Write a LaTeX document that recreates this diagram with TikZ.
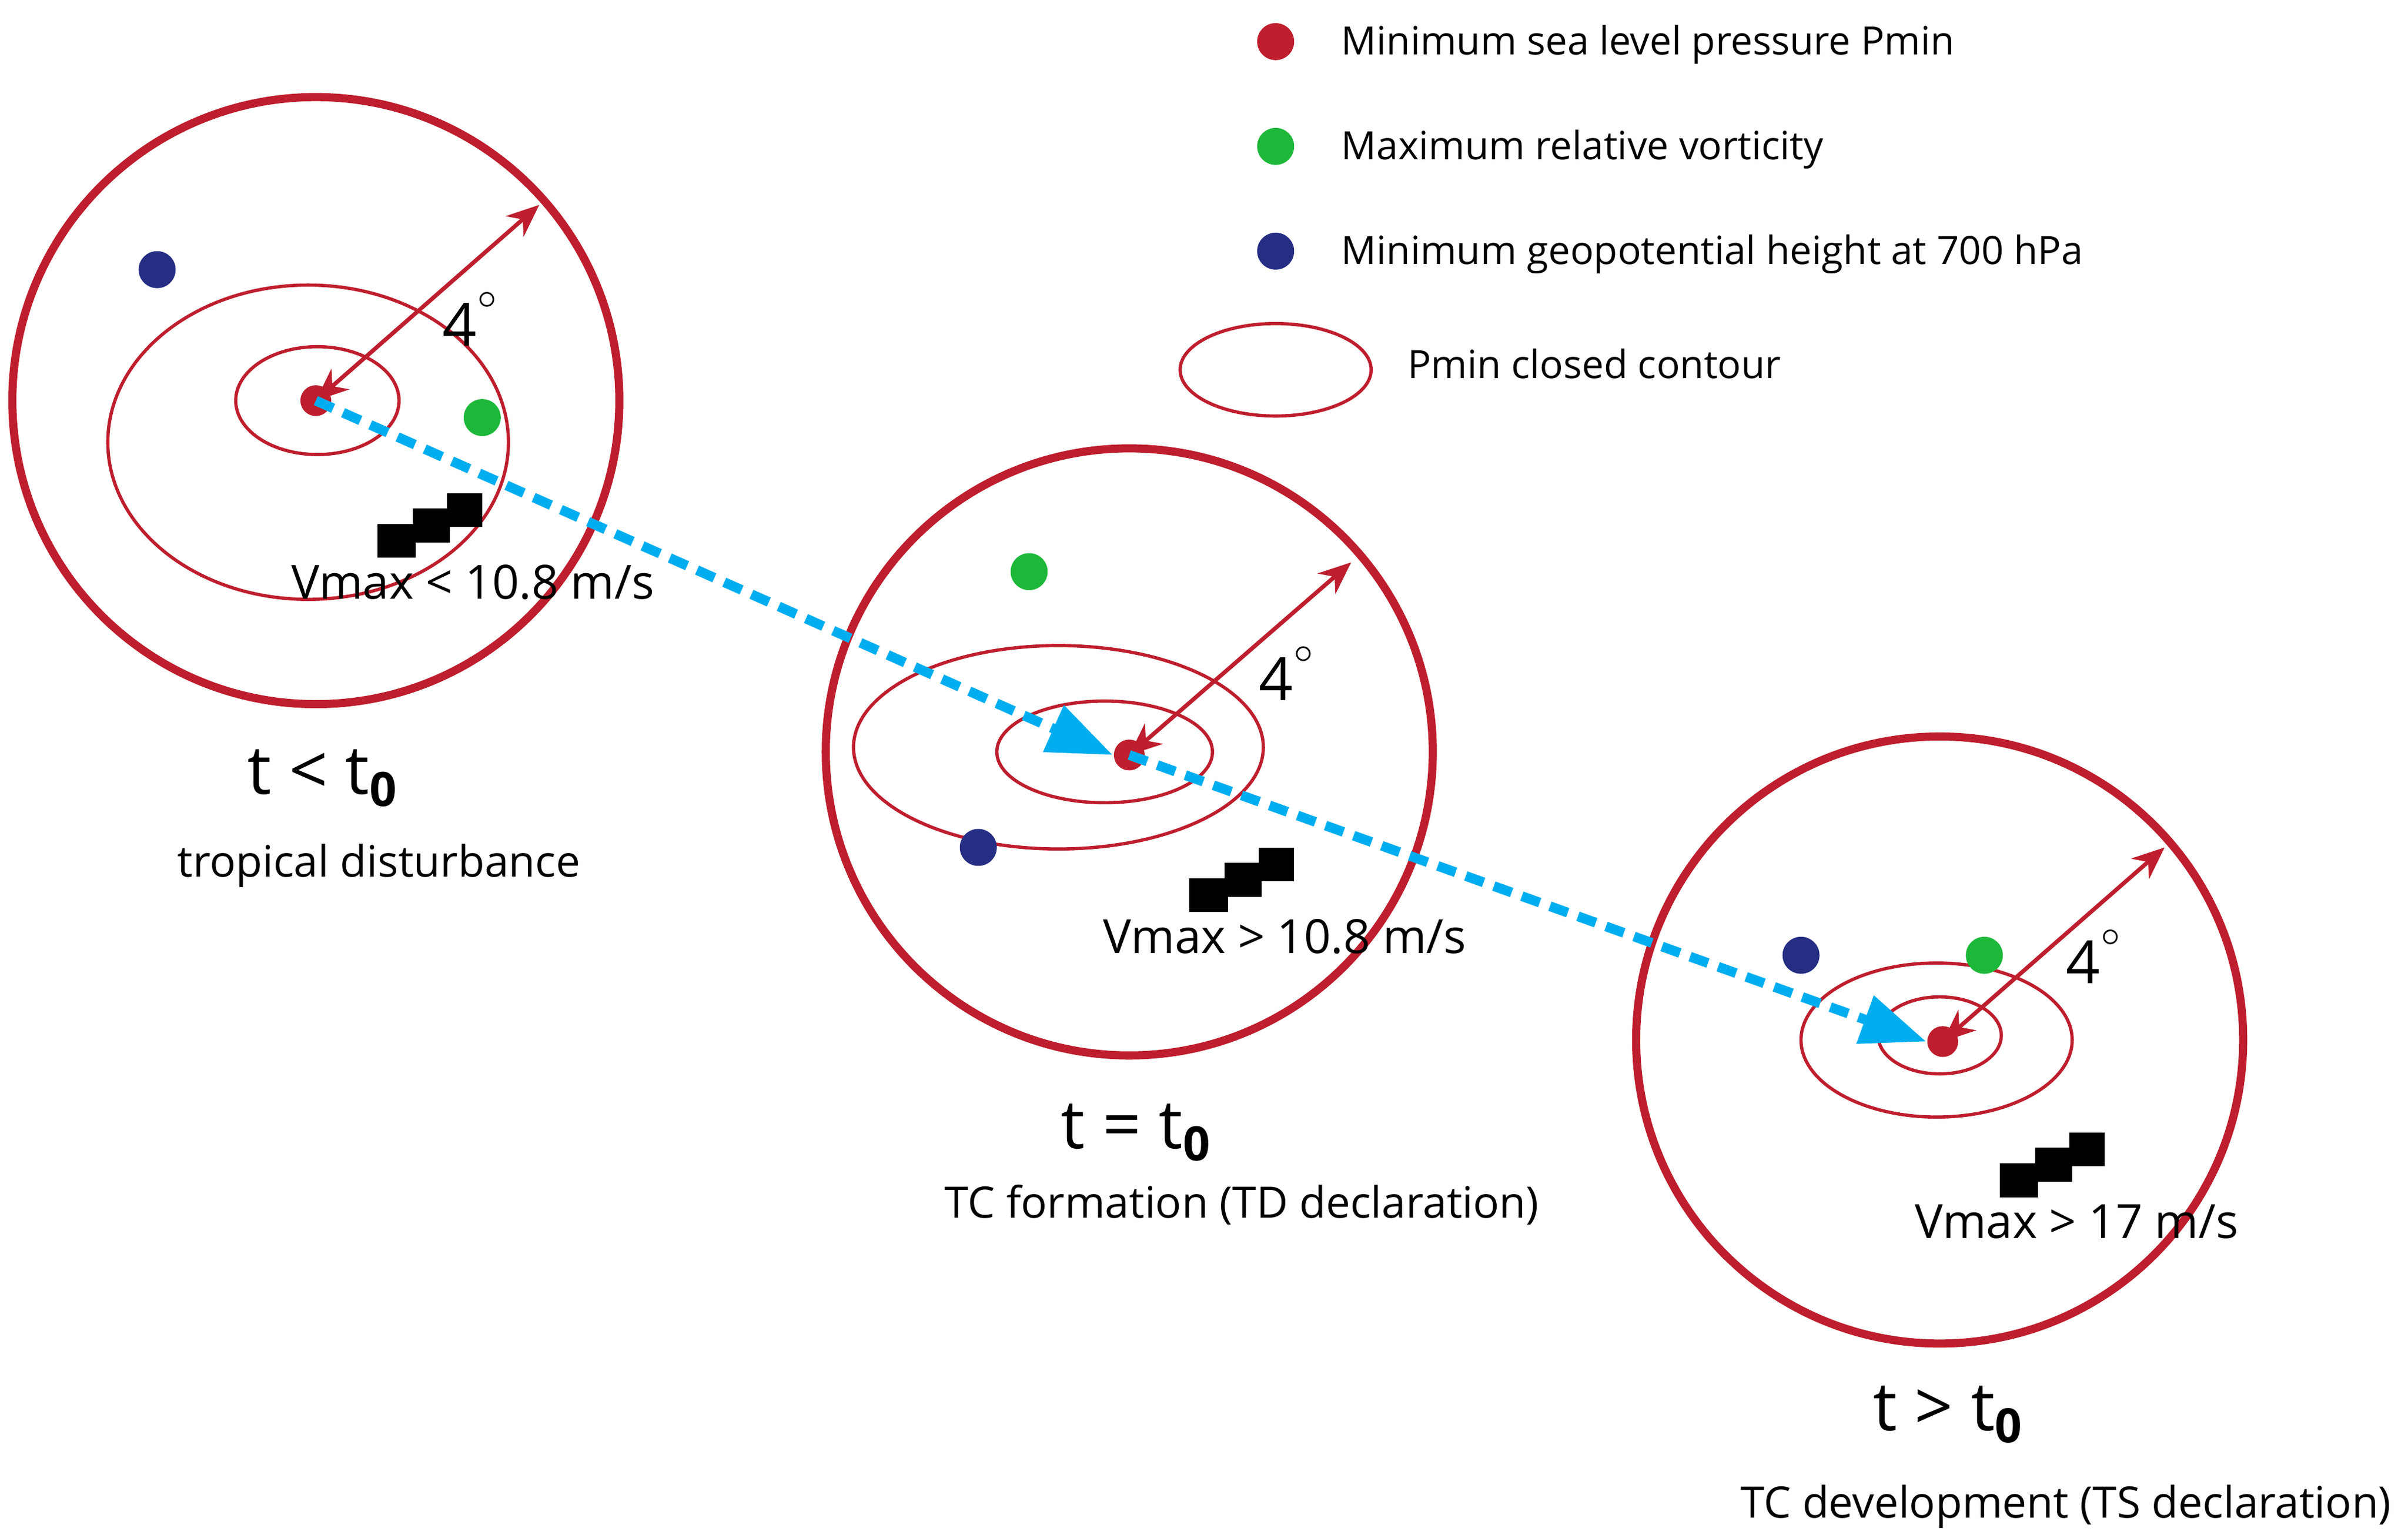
\documentclass[tikz,border=0pt]{standalone}
\usepackage{fontspec}
\setmainfont{Open Sans}
\usetikzlibrary{arrows.meta,positioning}
\definecolor{tcred}{HTML}{BE1E2D}
\definecolor{tcblue}{HTML}{262E84}
\definecolor{tcgreen}{HTML}{1DB83A}
\definecolor{tccyan}{HTML}{00AEEF}
\tikzset{
  dot/.style={circle,inner sep=0pt,minimum size=0.24cm},
  outer/.style={draw=tcred,line width=1.5pt},
  contour/.style={draw=tcred,line width=0.6pt},
  radius/.style={draw=tcred,line width=0.75pt,{Stealth[length=6pt,width=5pt]}-{Stealth[length=6pt,width=5pt]}},
  track/.style={draw=tccyan,line width=1.8pt,dash pattern=on 3.5pt off 2pt,-{Triangle[length=12pt,width=9pt]}},
  small/.style={font=\fontsize{7.2}{8}\selectfont,inner sep=0pt},
  big/.style={font=\fontsize{12.5}{14}\selectfont,inner sep=0pt},
}
\newcommand{\windmark}[1]{%
  \fill (#1) ++(0,20) rectangle ++(25,22);
  \fill (#1) ++(23,10) rectangle ++(24,22);
  \fill (#1) ++(45,0) rectangle ++(23,22);}
\begin{document}
\begin{tikzpicture}[x=0.01cm,y=-0.01cm]
\useasboundingbox (0,0) rectangle (1563,996);
% legend
\node[dot,fill=tcred] (Lp) at (828,27) {};
\node[dot,fill=tcgreen] (Lv) at (828,95) {};
\node[dot,fill=tcblue] (Lz) at (828,163) {};
\draw[contour] (828,240) ellipse (62 and 30);
\node[small,anchor=west] at (870,29) {Minimum sea level pressure Pmin};
\node[small,anchor=west] at (870,97) {Maximum relative vorticity};
\node[small,anchor=west] at (870,165) {Minimum geopotential height at 700 hPa};
\node[small,anchor=west] at (913,236) {Pmin closed contour};
% t < t0
\draw[outer] (205,260) circle (197);
\draw[contour] (200,287) ellipse (130 and 102);
\draw[contour] (206,260) ellipse (53 and 35);
\node[dot,fill=tcred,minimum size=0.2cm] (P1) at (205,260) {};
\node[dot,fill=tcblue] at (102,175) {};
\node[dot,fill=tcgreen] at (313,271) {};
\coordinate (E1) at (350,133);
\draw[radius] (P1.center) -- (E1);
\node[small,font=\fontsize{11}{12}\selectfont] at (305,207) {4\raisebox{1.2ex}{\fontsize{6}{6}\selectfont$\circ$}};
\windmark{245,320}
\node[small,font=\fontsize{8.7}{10}\selectfont] at (307,378) {Vmax < 10.8 m/s};
\node[big] at (210,505) {t < t\textsubscript{\bfseries 0}};
\node[small,font=\fontsize{8}{9}\selectfont] at (246,562) {tropical disturbance};
% t = t0
\draw[outer] (733,488) circle (197);
\draw[contour] (687,485) ellipse (133 and 66);
\draw[contour] (717,488) ellipse (70 and 33);
\node[dot,fill=tcred,minimum size=0.2cm] (P2) at (733,490) {};
\node[dot,fill=tcgreen] at (668,371) {};
\node[dot,fill=tcblue] at (635,550) {};
\coordinate (E2) at (877,365);
\draw[radius] (P2.center) -- (E2);
\node[small,font=\fontsize{11}{12}\selectfont] at (835,437) {4\raisebox{1.2ex}{\fontsize{6}{6}\selectfont$\circ$}};
\windmark{772,550}
\node[small,font=\fontsize{8.7}{10}\selectfont] at (834,608) {Vmax > 10.8 m/s};
\node[big] at (738,735) {t = t\textsubscript{\bfseries 0}};
\node[small,font=\fontsize{8}{9}\selectfont] at (806,782) {TC formation (TD declaration)};
% t > t0
\draw[outer] (1259,675) circle (197);
\draw[contour] (1257,675) ellipse (88 and 50);
\draw[contour] (1259,672) ellipse (40 and 25);
\node[dot,fill=tcred,minimum size=0.2cm] (P3) at (1261,676) {};
\node[dot,fill=tcblue] at (1169,620) {};
\node[dot,fill=tcgreen] at (1288,620) {};
\coordinate (E3) at (1405,550);
\draw[radius] (P3.center) -- (E3);
\node[small,font=\fontsize{11}{12}\selectfont] at (1359,621) {4\raisebox{1.2ex}{\fontsize{6}{6}\selectfont$\circ$}};
\windmark{1298,735}
\node[small,font=\fontsize{8.7}{10}\selectfont] at (1348,793) {Vmax > 17 m/s};
\node[big] at (1265,918) {t > t\textsubscript{\bfseries 0}};
\node[small,font=\fontsize{8}{9}\selectfont] at (1341,978) {TC development (TS declaration)};
% track
\draw[track] (P1.center) -- (P2.west);
\draw[track] (P2.center) -- (P3.west);
\end{tikzpicture}
\end{document}
